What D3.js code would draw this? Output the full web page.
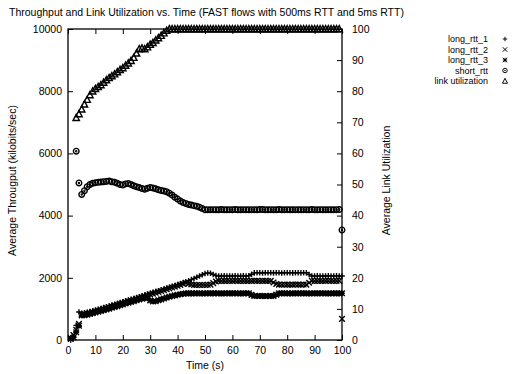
<!DOCTYPE html>
<meta charset="utf-8">
<script src="https://d3js.org/d3.v7.min.js"></script>
<style>
  body { margin: 0; background: #fff; }
  text { font-family: "Liberation Sans", Arial, Helvetica, sans-serif; font-size: 10.5px; fill: #000; }
</style>
<div id="chart"></div>
<script>
// sample times (s)
const time = [
  1, 2, 3, 4, 5, 6, 7, 8, 9, 10, 11, 12, 13, 14, 15, 16, 17, 18, 19, 20,
  21, 22, 23, 24, 25, 26, 27, 28, 29, 30, 31, 32, 33, 34, 35, 36, 37, 38, 39, 40,
  41, 42, 43, 44, 45, 46, 47, 48, 49, 50, 51, 52, 53, 54, 55, 56, 57, 58, 59, 60,
  61, 62, 63, 64, 65, 66, 67, 68, 69, 70, 71, 72, 73, 74, 75, 76, 77, 78, 79, 80,
  81, 82, 83, 84, 85, 86, 87, 88, 89, 90, 91, 92, 93, 94, 95, 96, 97, 98, 99, 100
];

// throughput, kbit/s
const longRtt1 = [
  0, 110, 470, 900,
  860, 872, 890, 912, 935, 960, 986, 1012, 1040, 1066,
  1093, 1120, 1148, 1176, 1204, 1232, 1258, 1284, 1310, 1336,
  1362, 1390, 1418, 1446, 1474, 1502, 1530, 1558, 1586, 1614,
  1642, 1670, 1698, 1726, 1754, 1782, 1810, 1840, 1872, 1906,
  1942, 1978, 2016, 2056, 2098, 2140, 2152, 2146, 2108, 2072,
  2060, 2058, 2062, 2060, 2056, 2060, 2064, 2060, 2058, 2062, 2060, 2066,
  2112,
  2158, 2162, 2160, 2156, 2160, 2164, 2160, 2158, 2162, 2160,
  2156, 2160, 2164, 2160, 2158, 2162, 2160, 2158, 2162, 2160,
  2108,
  2060, 2058, 2062, 2060, 2056, 2060, 2064, 2060, 2058, 2062, 2060, 2058
];
const longRtt2 = [
  30, 160, 330, 520,
  820, 832, 850, 872, 895, 920, 946, 972, 1000, 1026,
  1053, 1080, 1108, 1136, 1164, 1192, 1218, 1244, 1270, 1296,
  1322, 1350, 1378, 1406, 1434, 1462, 1490, 1518, 1546, 1574,
  1602, 1630, 1658, 1686, 1714, 1742, 1772, 1806, 1840, 1810,
  1784, 1772, 1768, 1770, 1766, 1770, 1774, 1780, 1830, 1880,
  1900, 1898, 1902, 1900, 1896, 1900, 1904, 1900, 1898, 1902,
  1900, 1896, 1900, 1904, 1900, 1898, 1902, 1900, 1898, 1902,
  1850, 1800,
  1780, 1778, 1782, 1780, 1776, 1780, 1784, 1780, 1778, 1782, 1780,
  1840,
  1900, 1898, 1902, 1900, 1896, 1900, 1904, 1900, 1898, 1902, 1900,
  680
];
const longRtt3 = [
  60, 80, 250, 460,
  790, 800, 816, 836, 858, 882, 906, 932, 958, 984,
  1010, 1036, 1062, 1090, 1118, 1146, 1172, 1198, 1224, 1250,
  1276, 1302, 1330, 1358, 1340, 1270, 1240, 1248, 1276, 1306,
  1336, 1364, 1390, 1414, 1436, 1454, 1470, 1486, 1498, 1500,
  1500, 1498, 1502, 1500, 1496, 1500, 1504, 1500, 1498, 1502, 1500,
  1496, 1500, 1504, 1500, 1498, 1502, 1500, 1496, 1500, 1504, 1500,
  1450,
  1416, 1414, 1418, 1416, 1412, 1416, 1420, 1416,
  1460,
  1500, 1498, 1502, 1500, 1496, 1500, 1504, 1500, 1498, 1502, 1500, 1496,
  1500, 1504, 1500, 1498, 1502, 1500, 1496, 1500, 1504, 1500, 1498, 1502
];
const shortRtt = [
  null, null,
  6070, 5050, 4680, 4800, 4930, 5000, 5040, 5060, 5070, 5080,
  5090, 5100, 5110, 5090, 5070, 5040, 5000, 4980, 5020, 5030,
  5000, 4960, 4930, 4900, 4870, 4850, 4880, 4900, 4890, 4860,
  4830, 4810, 4790, 4770, 4720, 4660, 4590, 4530, 4470, 4420,
  4390, 4360, 4340, 4320, 4300, 4270, 4230, 4190,
  4190, 4186, 4192, 4190, 4188, 4194, 4190, 4186, 4192, 4190,
  4196, 4190, 4188, 4192, 4190, 4186, 4192, 4190, 4188, 4194,
  4198, 4190, 4186, 4192, 4190, 4188, 4194, 4190, 4186, 4192,
  4190, 4188, 4192, 4190, 4186, 4192, 4190, 4188, 4194, 4190,
  4186, 4192, 4190, 4188, 4192, 4190, 4186, 4192, 4196,
  3540
];
// link utilization, percent (right axis)
const linkUtil = [
  null, null,
  71.5, 72.7, 74.2, 75.8, 77.3, 78.8, 80.0, 80.8, 81.4, 82.0,
  82.8, 83.6, 84.3, 84.9, 85.5, 86.2, 86.9, 87.5, 88.3, 89.0,
  89.8, 90.8, 92.2, 93.6, 93.8, 93.6, 94.2, 95.0, 95.6, 96.4,
  97.1, 97.9, 98.7, 99.5,
  100, 100, 100, 100, 100, 100, 100, 100, 100, 100,
  100, 100, 100, 100, 100, 100, 100, 100, 100, 100,
  100, 100, 100, 100, 100, 100, 100, 100, 100, 100,
  100, 100, 100, 100, 100, 100, 100, 100, 100, 100,
  100, 100, 100, 100, 100, 100, 100, 100, 100, 100,
  100, 100, 100, 100, 100, 100, 100, 100, 100, 100,
  100, 100, 100,
  null
];

const xTicks = [0, 10, 20, 30, 40, 50, 60, 70, 80, 90, 100];
const yTicks = [0, 2000, 4000, 6000, 8000, 10000];
const y2Ticks = [0, 10, 20, 30, 40, 50, 60, 70, 80, 90, 100];

const seriesNames = ["long_rtt_1", "long_rtt_2", "long_rtt_3", "short_rtt", "link utilization"];

const W = 515, H = 374;
const plot = {left: 68, right: 342, top: 29, bottom: 340};

const svg = d3.select("#chart").append("svg")
  .attr("width", W).attr("height", H);

const x = d3.scaleLinear().domain([0, 100]).range([plot.left, plot.right]);
const y = d3.scaleLinear().domain([0, 10000]).range([plot.bottom, plot.top]);
const y2 = d3.scaleLinear().domain([0, 100]).range([plot.bottom, plot.top]);

// title
svg.append("text")
  .attr("x", 9).attr("y", 16)
  .text("Throughput and Link Utilization vs. Time (FAST flows with 500ms RTT and 5ms RTT)");

// axes, gnuplot style: ticks pointing inward, mirrored on top
function styleAxis(g) {
  g.select(".domain").remove();
  g.selectAll(".tick line").attr("stroke", "#000").attr("stroke-width", 1);
  g.selectAll(".tick text").attr("fill", "#000").style("font-size", "10.5px")
    .style("font-family", '"Liberation Sans", Arial, sans-serif');
}

svg.append("g")
  .attr("transform", `translate(0,${plot.bottom})`)
  .call(d3.axisBottom(x).tickValues(xTicks).tickSizeInner(-5).tickSizeOuter(0).tickPadding(7))
  .call(styleAxis);

svg.append("g")
  .attr("transform", `translate(0,${plot.top})`)
  .call(d3.axisTop(x).tickValues(xTicks).tickSizeInner(-5).tickSizeOuter(0).tickFormat(""))
  .call(styleAxis);

svg.append("g")
  .attr("transform", `translate(${plot.left},0)`)
  .call(d3.axisLeft(y).tickValues(yTicks).tickFormat(d3.format("d"))
    .tickSizeInner(-5).tickSizeOuter(0).tickPadding(6))
  .call(styleAxis);

svg.append("g")
  .attr("transform", `translate(${plot.right},0)`)
  .call(d3.axisRight(y2).tickValues(y2Ticks).tickSizeInner(-5).tickSizeOuter(0).tickPadding(10))
  .call(styleAxis);

// border
svg.append("rect")
  .attr("x", plot.left).attr("y", plot.top)
  .attr("width", plot.right - plot.left).attr("height", plot.bottom - plot.top)
  .attr("fill", "none").attr("stroke", "#000").attr("stroke-width", 1.3);

// axis titles
svg.append("text")
  .attr("transform", `translate(16,${(plot.top + plot.bottom) / 2 - 4}) rotate(-90)`)
  .attr("text-anchor", "middle")
  .text("Average Througput (kilobits/sec)");

svg.append("text")
  .attr("transform", `translate(390,${(plot.top + plot.bottom) / 2 - 4}) rotate(-90)`)
  .attr("text-anchor", "middle")
  .text("Average Link Utilization");

svg.append("text")
  .attr("x", (plot.left + plot.right) / 2).attr("y", 369)
  .attr("text-anchor", "middle")
  .text("Time (s)");

// point shapes
const s = 2.8;
const shapes = {
  plus: `M${-s},0H${s}M0,${-s}V${s}`,
  cross: `M${-s},${-s}L${s},${s}M${-s},${s}L${s},${-s}`,
  star: `M${-s},0H${s}M0,${-s}V${s}M${-s},${-s}L${s},${s}M${-s},${s}L${s},${-s}`,
  circle: `M${s},0A${s},${s} 0 1,1 ${-s},0A${s},${s} 0 1,1 ${s},0ZM0.5,0A0.5,0.5 0 1,1 -0.5,0A0.5,0.5 0 1,1 0.5,0Z`,
  tri: `M0,${-s - 0.6}L${s + 0.4},${s}L${-s - 0.4},${s}Z`
};

const series = [
  {name: seriesNames[0], values: longRtt1, scale: y, shape: shapes.plus},
  {name: seriesNames[1], values: longRtt2, scale: y, shape: shapes.cross},
  {name: seriesNames[2], values: longRtt3, scale: y, shape: shapes.star},
  {name: seriesNames[3], values: shortRtt, scale: y, shape: shapes.circle},
  {name: seriesNames[4], values: linkUtil, scale: y2, shape: shapes.tri}
];

series.forEach(sr => {
  const pts = time.map((t, i) => ({t, v: sr.values[i]})).filter(d => d.v != null);
  svg.append("g").selectAll("path")
    .data(pts)
    .join("path")
    .attr("transform", d => `translate(${x(d.t)},${sr.scale(d.v)})`)
    .attr("d", sr.shape)
    .attr("fill", "none")
    .attr("stroke", "#000")
    .attr("stroke-width", 1.4);
});

// legend
const legend = svg.append("g");
series.forEach((sr, i) => {
  const ly = 39 + i * 10.5;
  legend.append("text")
    .attr("x", 488).attr("y", ly + 3.2)
    .attr("text-anchor", "end")
    .style("font-size", "9px")
    .text(sr.name);
  legend.append("path")
    .attr("transform", `translate(505,${ly}) scale(0.8)`)
    .attr("d", sr.shape)
    .attr("fill", "none").attr("stroke", "#000").attr("stroke-width", 1.2);
});
</script>
